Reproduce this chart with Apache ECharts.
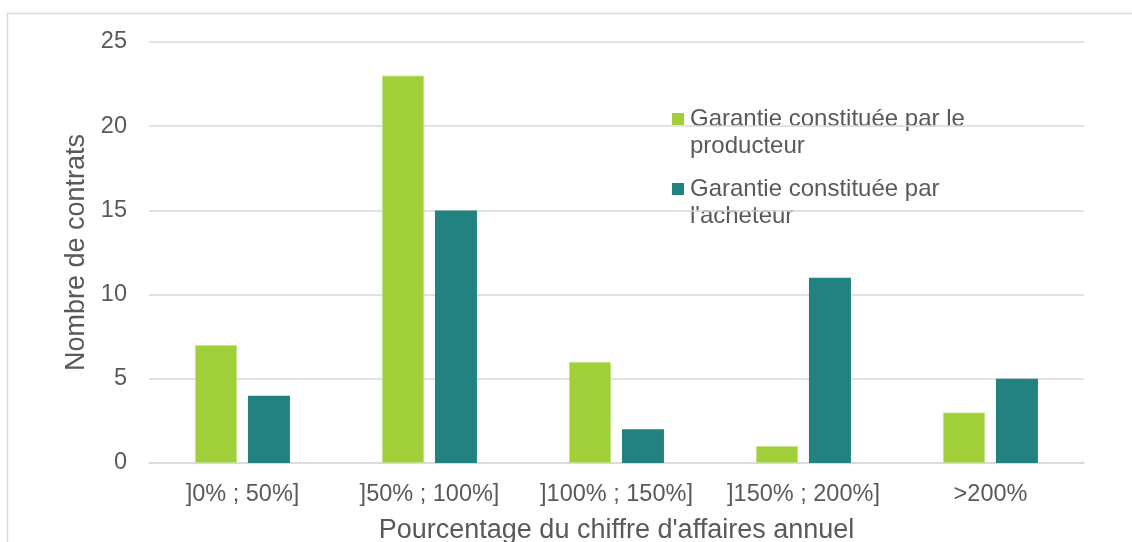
<!DOCTYPE html>
<html>
<head>
<meta charset="utf-8">
<script src="https://cdn.jsdelivr.net/npm/echarts@6/dist/echarts.min.js"></script>
<style>
  html, body { margin: 0; padding: 0; background: #ffffff; }
  #chart { width: 1132px; height: 542px; }
</style>
</head>
<body>
<div id="chart"></div>
<script>
// Categories: share of annual turnover
const categories = [']0% ; 50%]', ']50% ; 100%]', ']100% ; 150%]', ']150% ; 200%]', '>200%'];
// Number of contracts per guarantee provider
const producteurValues = [7, 23, 6, 1, 3];
const acheteurValues = [4, 15, 2, 11, 5];
const seriesNames = ['Garantie constituée par le\nproducteur', 'Garantie constituée par\nl\'acheteur'];
const yTicks = [0, 5, 10, 15, 20, 25];

const colors = ['#A0CF39', '#22827F'];
const textColor = '#595959';
const gridColor = '#D9D9D9';
const FONT = '"Liberation Sans", Arial, sans-serif';

const chart = echarts.init(document.getElementById('chart'), null, { renderer: 'canvas' });

// Hand-built legend: square swatch aligned with the first line of a two-line label
const legendItems = seriesNames.map((name, i) => ({
  type: 'group',
  left: 672,
  top: 105.5 + i * 70,
  children: [
    { type: 'rect', shape: { x: 0, y: 7.5, width: 12, height: 12 }, style: { fill: colors[i] } },
    { type: 'text', x: 18, y: 0, style: {
        text: name, fill: textColor, font: '24px ' + FONT, lineHeight: 27,
        verticalAlign: 'top', align: 'left' } }
  ]
}));

chart.setOption({
  animation: false,
  backgroundColor: '#ffffff',
  textStyle: { fontFamily: FONT },
  grid: { left: 149, right: 48, top: 42, bottom: 79, containLabel: false, outerBoundsMode: 'none' },
  xAxis: {
    type: 'category',
    data: categories,
    name: 'Pourcentage du chiffre d\'affaires annuel',
    nameLocation: 'middle',
    nameGap: 54,
    nameTextStyle: { fontSize: 27, color: textColor, fontFamily: FONT },
    axisLine: { lineStyle: { color: gridColor, width: 1.5 } },
    axisTick: { show: false },
    axisLabel: { fontSize: 23.5, color: textColor, margin: 20, fontFamily: FONT, interval: 0 }
  },
  yAxis: {
    type: 'value',
    min: yTicks[0],
    max: yTicks[yTicks.length - 1],
    interval: yTicks[1] - yTicks[0],
    name: 'Nombre de contrats',
    nameLocation: 'middle',
    nameGap: 49,
    nameTextStyle: { fontSize: 27, color: textColor, fontFamily: FONT },
    axisLine: { show: false },
    axisTick: { show: false },
    axisLabel: { fontSize: 23.5, color: textColor, margin: 22, fontFamily: FONT },
    splitLine: { lineStyle: { color: gridColor, width: 1.5 } }
  },
  legend: { show: false },
  series: [
    {
      name: seriesNames[0], type: 'bar', data: producteurValues,
      barWidth: 42, barGap: '26%',
      itemStyle: { color: colors[0], borderColor: '#C4E38A', borderWidth: 0.8 }
    },
    {
      name: seriesNames[1], type: 'bar', data: acheteurValues,
      barWidth: 42, barGap: '26%',
      itemStyle: { color: colors[1] }
    }
  ],
  graphic: [
    { type: 'rect', shape: { x: 7.5, y: 13.5, width: 1200, height: 600 },
      style: { fill: 'none', stroke: gridColor, lineWidth: 1.5 }, silent: true },
    ...legendItems
  ]
});
</script>
</body>
</html>
